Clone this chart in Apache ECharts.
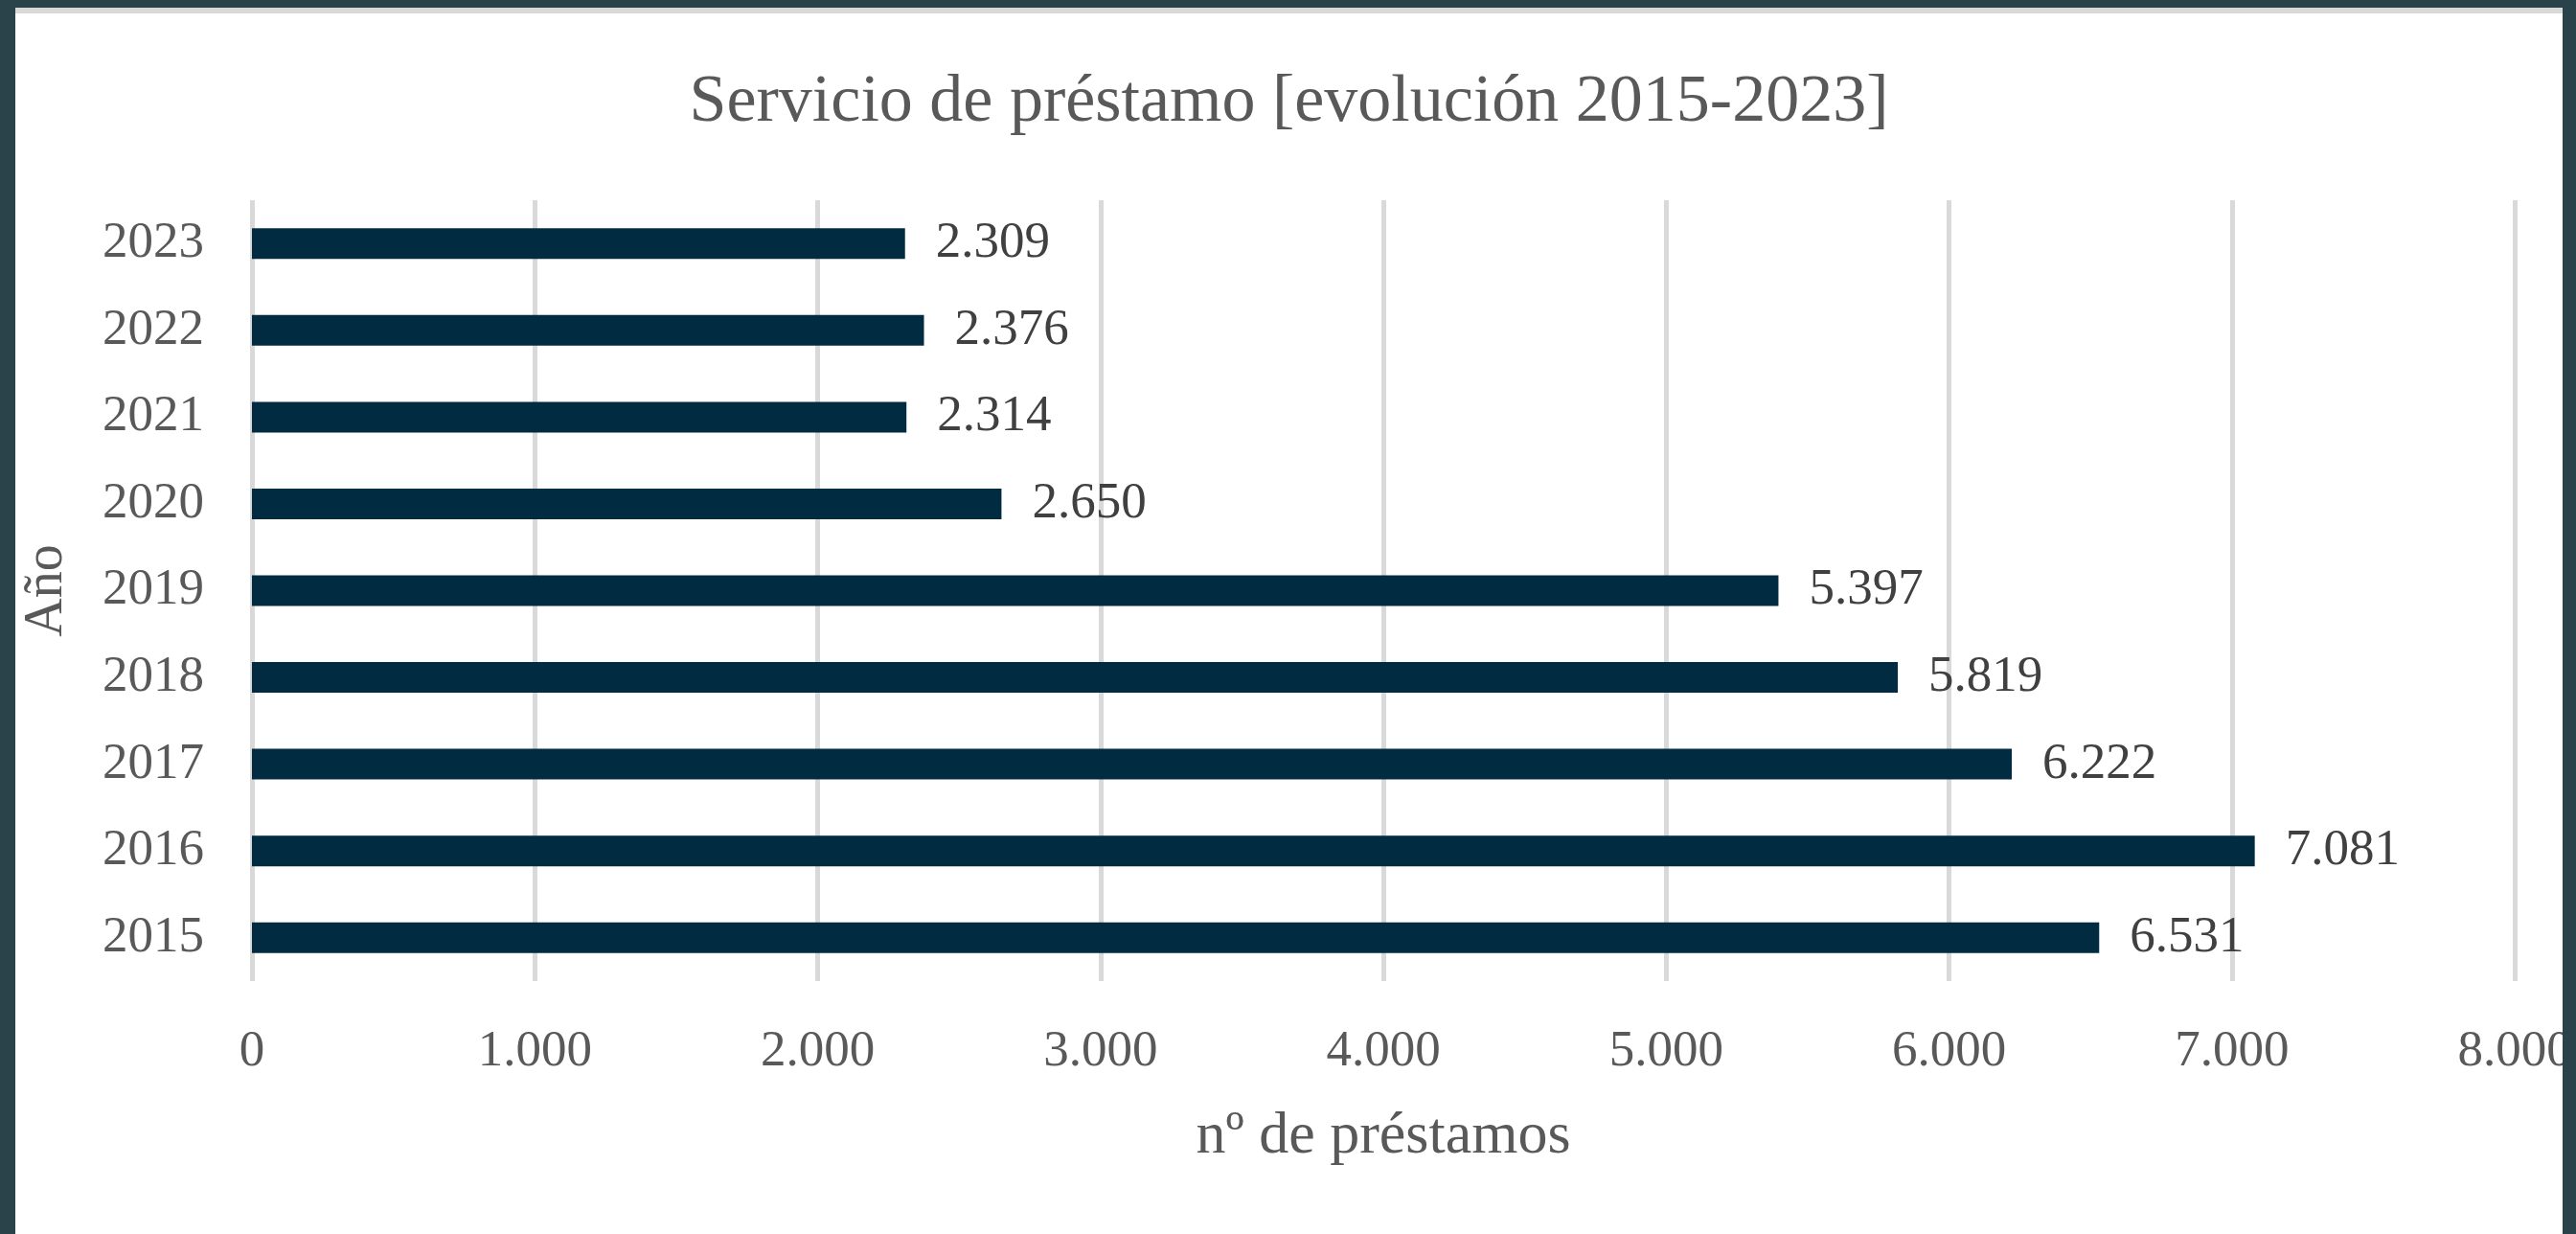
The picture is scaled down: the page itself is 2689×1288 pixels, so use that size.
<!DOCTYPE html>
<html lang="es">
<head>
    <meta charset="UTF-8">
    <title>Servicio de préstamo</title>
    <style>
        html, body { margin: 0; padding: 0; }
        body { width: 2689px; height: 1288px; background: #2a434b; overflow: hidden; }
        #frame {
            position: absolute;
            left: 16px;
            top: 8px;
            width: 2659px;
            height: 1280px;
            box-sizing: border-box;
            border-top: 6px solid #d9d9d9;
            background: #fff;
            overflow: hidden;
        }
        #main { width: 100%; height: 100%; }
    </style>
</head>
<body>
<div id="frame"><div id="main"></div></div>
<script src="https://cdn.jsdelivr.net/npm/echarts@6/dist/echarts.min.js"></script>
<script type="text/javascript">
    // datos del gráfico
    var years = ['2015', '2016', '2017', '2018', '2019', '2020', '2021', '2022', '2023'];
    var loans = [6531, 7081, 6222, 5819, 5397, 2650, 2314, 2376, 2309];
    var titleText = 'Servicio de préstamo [evolución 2015-2023]';
    var xName = 'nº de préstamos';
    var yName = 'Año';

    var serif = '"Liberation Serif", "DejaVu Serif", serif';

    // separador de miles con punto
    function fmt(v) {
        return String(Math.round(v)).replace(/\B(?=(\d{3})+(?!\d))/g, '.');
    }

    var myChart = echarts.init(document.getElementById('main'));
    myChart.setOption({
        backgroundColor: '#fff',
        animation: false,
        title: {
            text: titleText,
            left: 'center',
            top: 54,
            textStyle: {
                fontFamily: serif,
                fontSize: 70,
                fontWeight: 'normal',
                color: '#595959'
            }
        },
        grid: {
            left: 247,
            right: 50,
            top: 195,
            bottom: 264,
            containLabel: false,
            outerBoundsMode: 'none'
        },
        xAxis: {
            type: 'value',
            min: 0,
            max: 8000,
            interval: 1000,
            name: xName,
            nameLocation: 'middle',
            nameGap: 132,
            nameTextStyle: {
                fontFamily: serif,
                fontSize: 62,
                color: '#595959'
            },
            axisLine: { show: false },
            axisTick: { show: false },
            axisLabel: {
                margin: 48,
                fontFamily: serif,
                fontSize: 53,
                color: '#595959',
                formatter: fmt
            },
            splitLine: {
                show: true,
                lineStyle: { color: '#d9d9d9', width: 5 }
            }
        },
        yAxis: {
            type: 'category',
            data: years,
            name: yName,
            nameLocation: 'middle',
            nameGap: 186,
            nameRotate: 90,
            nameTextStyle: {
                fontFamily: serif,
                fontSize: 56,
                color: '#595959'
            },
            axisLine: { show: false },
            axisTick: { show: false },
            axisLabel: {
                margin: 50,
                fontFamily: serif,
                fontSize: 53,
                color: '#595959'
            }
        },
        series: [{
            type: 'bar',
            data: loans,
            barWidth: 32,
            itemStyle: { color: '#012b41' },
            label: {
                show: true,
                position: 'right',
                distance: 32,
                fontFamily: serif,
                fontSize: 53,
                color: '#404040',
                formatter: function (p) { return fmt(p.value); }
            }
        }]
    });
</script>
</body>
</html>
